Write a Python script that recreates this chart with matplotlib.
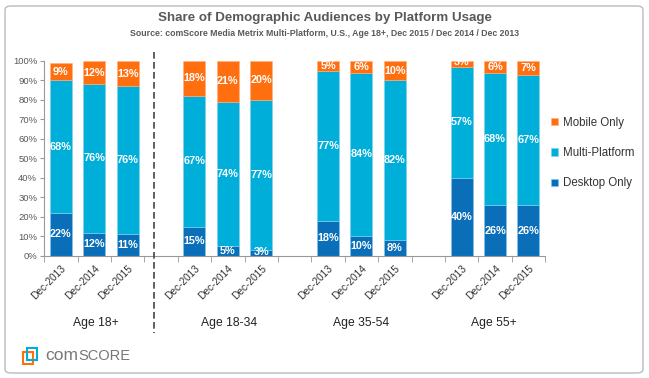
import numpy as np
import matplotlib
matplotlib.use('Agg')
import matplotlib.pyplot as plt
from matplotlib.patches import FancyBboxPatch, Rectangle

plt.rcParams['font.family'] = ['Liberation Sans', 'DejaVu Sans']

# Data
groups = ['Age 18+', 'Age 18-34', 'Age 35-54', 'Age 55+']
years = ['Dec-2013', 'Dec-2014', 'Dec-2015']
desktop_only = [22, 12, 11, 15, 5, 3, 18, 10, 8, 40, 26, 26]
multi_platform = [68, 76, 76, 67, 74, 77, 77, 84, 82, 57, 68, 67]
mobile_only = [9, 12, 13, 18, 21, 20, 5, 6, 10, 3, 6, 7]

c_desk = '#0A6FB8'
c_multi = '#00AEDA'
c_mob = '#FF6F0F'
grey = '#595959'

# bar slots: 3 bars per group with one empty slot between groups
x = np.array([g * 4 + i for g in range(len(groups)) for i in range(len(years))])

fig = plt.figure(figsize=(6.49, 3.78), dpi=100)
ax = fig.add_axes([0.068, 0.323, 0.772, 0.516])

desk = np.array(desktop_only)
multi = np.array(multi_platform)
mob = np.array(mobile_only)
w = 0.66
ax.bar(x, desk, w, color=c_desk, edgecolor='#7FC8EC', linewidth=0.4, label='Desktop Only')
ax.bar(x, multi, w, bottom=desk, color=c_multi, edgecolor='#7FD4EC', linewidth=0.4, label='Multi-Platform')
ax.bar(x, mob, w, bottom=desk + multi, color=c_mob, edgecolor='#FFB080', linewidth=0.4, label='Mobile Only')

# value labels
for xi, d, m, o in zip(x, desk, multi, mob):
    kw = dict(ha='center', va='center', color='white', fontsize=7.8, fontweight='bold')
    ax.text(xi, max(d / 2, 1.8), f'{d}%', **kw)
    ax.text(xi, d + m / 2, f'{m}%', **kw)
    ax.text(xi, d + m + max(o / 2, 2.5), f'{o}%', **kw)

ax.set_xlim(-0.5, 14.5)
ax.set_ylim(0, 100)
ax.set_yticks(range(0, 101, 10))
ax.set_yticklabels([f'{v}%' for v in range(0, 101, 10)], fontsize=6.8, color=grey)
ax.tick_params(axis='y', length=3, color='#999999', pad=2)

ax.set_xticks(x)
ax.set_xticklabels(years * len(groups), rotation=45, ha='right', rotation_mode='anchor',
                   fontsize=7.3, color='#333333')
ax.tick_params(axis='x', length=0, pad=5)
ax.set_xticks(np.arange(-0.5, 15, 1), minor=True)
ax.tick_params(axis='x', which='minor', length=4, color='#999999')

for s in ['top', 'right']:
    ax.spines[s].set_visible(False)
for s in ['left', 'bottom']:
    ax.spines[s].set_color('#999999')
    ax.spines[s].set_linewidth(0.8)

# group labels
for g, name in enumerate(groups):
    fig.text((96 + g * 132.7) / 649, 1 - 323 / 378, name, ha='center', va='center',
             fontsize=8.7, color='#222222')

# dashed divider
fig.add_artist(plt.Line2D([154 / 649, 154 / 649], [1 - 52 / 378, 1 - 333 / 378],
                          color='#444444', linestyle=(0, (4, 2)), linewidth=1.2))

# legend
handles, labels = ax.get_legend_handles_labels()
leg = fig.legend(handles[::-1], labels[::-1], loc='center left',
                 bbox_to_anchor=(541 / 649, 1 - 153 / 378), frameon=False,
                 fontsize=8.3, handlelength=0.6, handleheight=0.6, handletextpad=0.4,
                 labelspacing=1.6)
for t in leg.get_texts():
    t.set_color('#333333')

# titles
fig.text(0.5, 1 - 18 / 378, 'Share of Demographic Audiences by Platform Usage',
         ha='center', va='center', fontsize=9.6, fontweight='bold', color=grey)
fig.text(0.5, 1 - 33 / 378,
         'Source: comScore Media Metrix Multi-Platform, U.S., Age 18+, Dec 2015 / Dec 2014 / Dec 2013',
         ha='center', va='center', fontsize=6.3, fontweight='bold', color=grey)

# frame
fig.add_artist(FancyBboxPatch((5 / 649, 5 / 378), 638 / 649, 367 / 378,
                              boxstyle='round,pad=0,rounding_size=0.01',
                              transform=fig.transFigure, fill=False,
                              edgecolor='#BBBBBB', linewidth=1))

# comScore logo
fig.add_artist(Rectangle((23 / 649, 1 - 364 / 378), 10 / 649, 12 / 378,
                         transform=fig.transFigure, fill=False, edgecolor=c_mob, linewidth=1.5))
fig.add_artist(Rectangle((27 / 649, 1 - 360 / 378), 10 / 649, 12 / 378,
                         transform=fig.transFigure, fill=False, edgecolor=c_multi, linewidth=1.5))
base_y = 1 - 360 / 378
com = fig.text(45 / 649, base_y, 'com', ha='left', va='baseline', fontsize=12.5,
               color='#777777')
fig.canvas.draw()
bb = com.get_window_extent()
fig.text(bb.x1 / fig.bbox.width, base_y, 'SCORE', ha='left', va='baseline',
         fontsize=10.5, color='#777777')

fig.savefig('out.png', dpi=100)
